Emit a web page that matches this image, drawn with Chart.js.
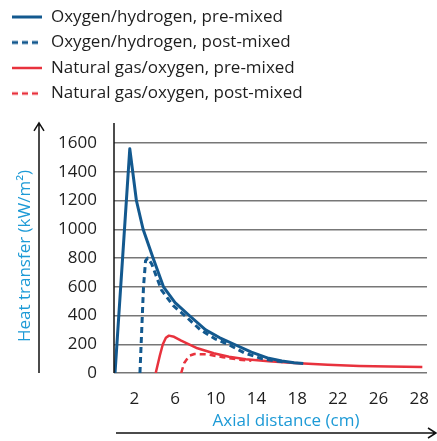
<!DOCTYPE html>
<html>
<head>
<meta charset="utf-8">
<script src="https://cdn.jsdelivr.net/npm/chart.js@4/dist/chart.umd.min.js"></script>
<style>
  html, body { margin: 0; padding: 0; background: #fff; }
  #wrap { width: 437px; height: 441px; position: relative; }
</style>
</head>
<body>
<div id="wrap"><canvas id="chart"></canvas></div>
<script>
// Valores (x em cm, y em kW/m²)
const seriesNames = [
  'Oxygen/hydrogen, pre-mixed',
  'Oxygen/hydrogen, post-mixed',
  'Natural gas/oxygen, pre-mixed',
  'Natural gas/oxygen, post-mixed'
];

const ohPreX  = [0.1, 1.55, 1.84, 2.2, 2.86, 3.84, 4.86, 6.0, 7.4, 9.0, 10.4, 11.8, 13.5, 15.2, 16.5, 17.7, 18.6];
const ohPreY  = [0, 1560, 1400, 1200, 1000, 800, 600, 490, 400, 300, 245, 200, 145, 102, 84, 72, 66];

const ohPostX = [2.55, 2.9, 3.1, 3.3, 3.7, 4.67, 5.8, 6.95, 8.5, 10.0, 11.2, 12.8, 14.5, 15.8, 16.8];
const ohPostY = [0, 600, 780, 800, 760, 577, 470, 400, 300, 235, 200, 140, 100, 85, 76];

const ngPreX  = [4.1, 4.5, 4.8, 5.1, 5.4, 5.9, 6.6, 8.2, 9.8, 11.3, 12.95, 15.2, 17.7, 21.0, 24.1, 27.0, 30.3];
const ngPreY  = [0, 120, 200, 245, 260, 252, 225, 172, 137, 113, 95, 82, 70, 58, 49, 45, 42];

const ngPostX = [6.6, 6.9, 7.4, 7.9, 9.1, 10.7, 12.3, 13.5];
const ngPostY = [0, 70, 120, 132, 130, 110, 93, 85];

const xTickPos    = [2, 6, 10, 14, 18, 22, 26, 30];
const xTickLabels = ['2', '6', '10', '14', '18', '22', '26', '28'];
const yTickValues = [0, 200, 400, 600, 800, 1000, 1200, 1400, 1600];

const yTitle = 'Heat transfer (kW/m²)';
const xTitle = 'Axial distance (cm)';

// Cores e fontes
const BLUE = '#13598f';
const RED = '#e8323d';
const TITLE_BLUE = '#1d9ad6';
const TEXT = '#1e1e1e';
const FONT = "'Open Sans', 'DejaVu Sans', sans-serif";

const toPoints = (xs, ys) => xs.map((x, i) => ({ x: x, y: ys[i] }));

// Amostra de linha para a legenda (sólida ou tracejada)
const legendSwatch = (color, width, dash) => {
  const c = document.createElement('canvas');
  c.width = 30;
  c.height = 6;
  const g = c.getContext('2d');
  g.strokeStyle = color;
  g.lineWidth = width;
  g.setLineDash(dash || []);
  g.beginPath();
  g.moveTo(0, 3);
  g.lineTo(30, 3);
  g.stroke();
  return c;
};

// Setas dos eixos e títulos
const decorations = {
  id: 'decorations',
  afterDraw(chart) {
    const { ctx, chartArea, scales } = chart;
    const topY = scales.y.getPixelForValue(1740);
    ctx.save();
    ctx.strokeStyle = '#111';
    ctx.lineWidth = 1.5;

    // linha do eixo y
    ctx.beginPath();
    ctx.moveTo(chartArea.left, topY);
    ctx.lineTo(chartArea.left, chartArea.bottom);
    ctx.stroke();

    // seta vertical
    const ax = 39;
    ctx.beginPath();
    ctx.moveTo(ax, chartArea.bottom);
    ctx.lineTo(ax, topY);
    ctx.moveTo(ax - 5, topY + 8);
    ctx.lineTo(ax, topY);
    ctx.lineTo(ax + 5, topY + 8);
    ctx.stroke();

    // seta horizontal
    const ay = chartArea.bottom + 60;
    const right = chart.width - 1;
    ctx.beginPath();
    ctx.moveTo(chartArea.left + 2, ay);
    ctx.lineTo(right, ay);
    ctx.moveTo(right - 8, ay - 5);
    ctx.lineTo(right, ay);
    ctx.lineTo(right - 8, ay + 5);
    ctx.stroke();

    // títulos
    ctx.fillStyle = TITLE_BLUE;
    ctx.font = '17px ' + FONT;
    ctx.textAlign = 'center';
    ctx.textBaseline = 'middle';
    ctx.fillText(xTitle, 286, chartArea.bottom + 48);

    ctx.translate(25, 256);
    ctx.rotate(-Math.PI / 2);
    ctx.fillText(yTitle, 0, 0);
    ctx.restore();
  }
};

new Chart(document.getElementById('chart'), {
  type: 'line',
  data: {
    datasets: [
      { label: seriesNames[0], data: toPoints(ohPreX, ohPreY), borderColor: BLUE, backgroundColor: BLUE, borderWidth: 3 },
      { label: seriesNames[1], data: toPoints(ohPostX, ohPostY), borderColor: BLUE, backgroundColor: BLUE, borderWidth: 3, borderDash: [6, 4] },
      { label: seriesNames[2], data: toPoints(ngPreX, ngPreY), borderColor: RED, backgroundColor: RED, borderWidth: 2.5 },
      { label: seriesNames[3], data: toPoints(ngPostX, ngPostY), borderColor: RED, backgroundColor: RED, borderWidth: 2.5, borderDash: [6, 4] }
    ]
  },
  options: {
    responsive: true,
    maintainAspectRatio: false,
    animation: false,
    layout: { padding: { left: 3, right: 0, top: 0, bottom: 0 } },
    elements: {
      point: { radius: 0 },
      line: { tension: 0, borderJoinStyle: 'round', fill: false }
    },
    plugins: {
      tooltip: { enabled: false },
      legend: {
        position: 'top',
        align: 'start',
        labels: {
          usePointStyle: true,
          pointStyleWidth: 31,
          padding: 8.5,
          color: TEXT,
          font: { family: FONT, size: 17 },
          generateLabels: (chart) => chart.data.datasets.map((ds, i) => ({
            text: ds.label,
            datasetIndex: i,
            fontColor: TEXT,
            hidden: false,
            pointStyle: legendSwatch(ds.borderColor, ds.borderWidth, ds.borderDash),
            lineWidth: 0
          }))
        }
      }
    },
    scales: {
      x: {
        type: 'linear',
        min: 0,
        max: 30.76,
        afterBuildTicks: (scale) => { scale.ticks = xTickPos.map(v => ({ value: v })); },
        afterFit: (scale) => { scale.height = 68; },
        grid: { display: false },
        border: { display: false },
        ticks: {
          autoSkip: false,
          maxRotation: 0,
          padding: 8,
          color: TEXT,
          font: { family: FONT, size: 17 },
          callback: (value, index) => xTickLabels[index]
        }
      },
      y: {
        min: 0,
        max: 1816,
        afterBuildTicks: (scale) => { scale.ticks = yTickValues.map(v => ({ value: v })); },
        afterFit: (scale) => { scale.width = 111; },
        grid: { color: '#777', lineWidth: 1.5, drawTicks: false },
        border: { display: false },
        ticks: {
          padding: 17,
          color: TEXT,
          font: { family: FONT, size: 17 },
          callback: (value) => String(value)
        }
      }
    }
  },
  plugins: [decorations]
});
</script>
</body>
</html>
